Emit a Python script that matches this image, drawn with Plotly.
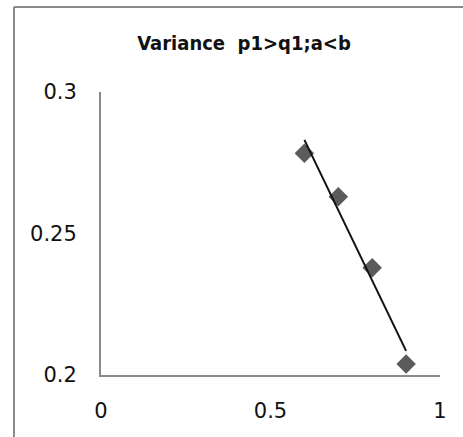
import numpy as np
import plotly.graph_objects as go

# Data
x_vals = [0.6, 0.7, 0.8, 0.9]
y_vals = [0.2784, 0.2630, 0.2379, 0.2039]
title_text = "<b>Variance  p1>q1;a<b</b>"
x_ticks = [0, 0.5, 1]
x_tick_labels = ["0", "0.5", "1"]
y_ticks = [0.2, 0.25, 0.3]
y_tick_labels = ["0.2", "0.25", "0.3"]

# Linear trendline (least squares) through the data
slope, intercept = np.polyfit(x_vals, y_vals, 1)
trend_x = [min(x_vals), max(x_vals)]
trend_y = [slope * v + intercept for v in trend_x]

W, H = 463, 437
L, R, T, B = 101, 23, 92, 62
pw, ph = W - L - R, H - T - B

fig = go.Figure()
fig.add_trace(go.Scatter(
    x=x_vals, y=y_vals, mode="markers",
    marker=dict(symbol="diamond", size=15, color="#5b5b5b"),
    showlegend=False, cliponaxis=False,
))
fig.add_trace(go.Scatter(
    x=trend_x, y=trend_y, mode="lines",
    line=dict(color="#111111", width=2),
    showlegend=False, cliponaxis=False,
))

# outer chart frame (left and top edges visible)
fx = (14 - L) / pw
fy = (H - B - 7) / ph
fig.add_shape(type="line", xref="paper", yref="paper",
              x0=fx, x1=fx, y0=-1, y1=fy, line=dict(color="#8a8a8a", width=2))
fig.add_shape(type="line", xref="paper", yref="paper",
              x0=fx, x1=3, y0=fy, y1=fy, line=dict(color="#8a8a8a", width=2))

fig.update_layout(
    width=W, height=H,
    margin=dict(l=L, r=R, t=T, b=B, autoexpand=False),
    paper_bgcolor="white", plot_bgcolor="white",
    font=dict(family="DejaVu Sans, Verdana, sans-serif", size=21, color="#111111"),
    title=dict(text=title_text, x=244 / W, xanchor="center", y=1 - 43 / H, yanchor="middle",
               font=dict(family="DejaVu Sans Condensed, DejaVu Sans, sans-serif", size=20, color="#111111")),
    showlegend=False,
)
fig.update_xaxes(range=[0, 1], tickvals=x_ticks, ticktext=x_tick_labels,
                 showgrid=False, zeroline=False, showline=True, linecolor="#8a8a8a", linewidth=2,
                 ticks="", ticklabelstandoff=16)
fig.update_yaxes(range=[0.2, 0.3], tickvals=y_ticks, ticktext=y_tick_labels,
                 showgrid=False, zeroline=False, showline=True, linecolor="#8a8a8a", linewidth=2,
                 ticks="", ticklabelstandoff=18)

fig.write_html("out.html", config={"displayModeBar": False},
               post_script="document.body.style.margin='0';")
